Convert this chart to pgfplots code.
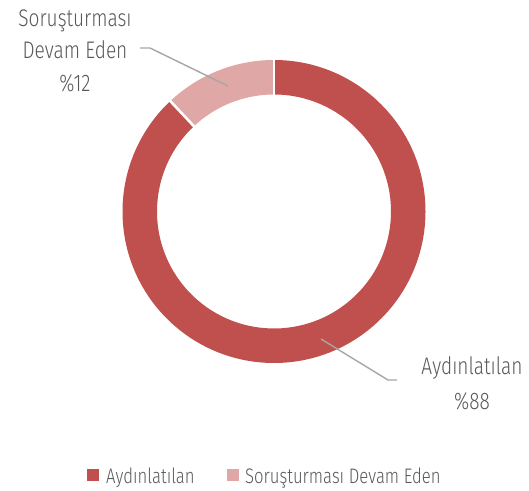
\documentclass[border=0pt]{standalone}
\usepackage{pgfplots}
\usepackage{pgfplotstable}
\pgfplotsset{compat=1.18}
\usepackage{fontspec}
\setmainfont{Fira Sans Light}[FakeStretch=0.795]

\definecolor{sliceA}{HTML}{C0504D}
\definecolor{sliceB}{HTML}{DFA7A6}
\definecolor{txt}{HTML}{595959}
\definecolor{leader}{HTML}{A6A6A6}

% share of cases (percent)
\pgfplotstableread{
key value
A 88
B 12
}\slices

\begin{document}
\begin{tikzpicture}
\pgfplotstablegetelem{0}{value}\of\slices \let\valA\pgfplotsretval
\pgfplotstablegetelem{1}{value}\of\slices \let\valB\pgfplotsretval
\pgfmathsetmacro{\total}{\valA+\valB}
% slices run clockwise from 12 o'clock
\pgfmathsetmacro{\angA}{90-\valA/\total*360}
\pgfmathsetmacro{\angB}{\angA-\valB/\total*360}
\def\Rout{151.5bp}
\def\Rin{117bp}
\begin{axis}[
  width=529bp, height=491bp, scale only axis,
  xmin=0, xmax=529, ymin=0, ymax=491,
  axis lines=none, clip=false,
]
% keep the full canvas as the picture's extent
\path (axis cs:0,0) rectangle (axis cs:529,491);
\coordinate (c) at (axis cs:274,279.5);
% ring segments
\fill[sliceA] ([shift={(c)}]90:\Rout) arc[start angle=90, end angle=\angA, radius=\Rout]
   -- ([shift={(c)}]\angA:\Rin) arc[start angle=\angA, end angle=90, radius=\Rin] -- cycle;
\fill[sliceB] ([shift={(c)}]\angA:\Rout) arc[start angle=\angA, end angle=\angB, radius=\Rout]
   -- ([shift={(c)}]\angB:\Rin) arc[start angle=\angB, end angle=\angA, radius=\Rin] -- cycle;
% white gaps between segments
\draw[white, line width=2.6bp] ([shift={(c)}]90:\Rin-2bp) -- ([shift={(c)}]90:\Rout+2bp);
\draw[white, line width=2.6bp] ([shift={(c)}]\angA:\Rin-2bp) -- ([shift={(c)}]\angA:\Rout+2bp);

% leader lines
\draw[leader, line width=1.4bp] (axis cs:228,405) -- (axis cs:150,443) -- (axis cs:140,443);
\draw[leader, line width=1.4bp] (axis cs:321,152) -- (axis cs:388,111) -- (axis cs:397,111);

% data labels
\begin{scope}[every node/.style={text=txt, font=\fontsize{24bp}{28bp}\selectfont, inner sep=0pt, anchor=base}]
\node at (axis cs:75,464) {Soruşturması};
\node at (axis cs:75,432) {Devam Eden};
\node at (axis cs:75,399) {\%\valB};
\node at (axis cs:472,116) {Aydınlatılan};
\node at (axis cs:472,81) {\%\valA};
\end{scope}

% legend
\fill[sliceA] (axis cs:87,10) rectangle (axis cs:99,22);
\fill[sliceB] (axis cs:227,10) rectangle (axis cs:239,22);
\begin{scope}[every node/.style={text=txt, font=\fontsize{21bp}{25bp}\selectfont, inner sep=0pt, anchor=base west}]
\node at (axis cs:106,8) {Aydınlatılan};
\node at (axis cs:245,8) {Soruşturması Devam Eden};
\end{scope}
\end{axis}
\end{tikzpicture}
\end{document}
